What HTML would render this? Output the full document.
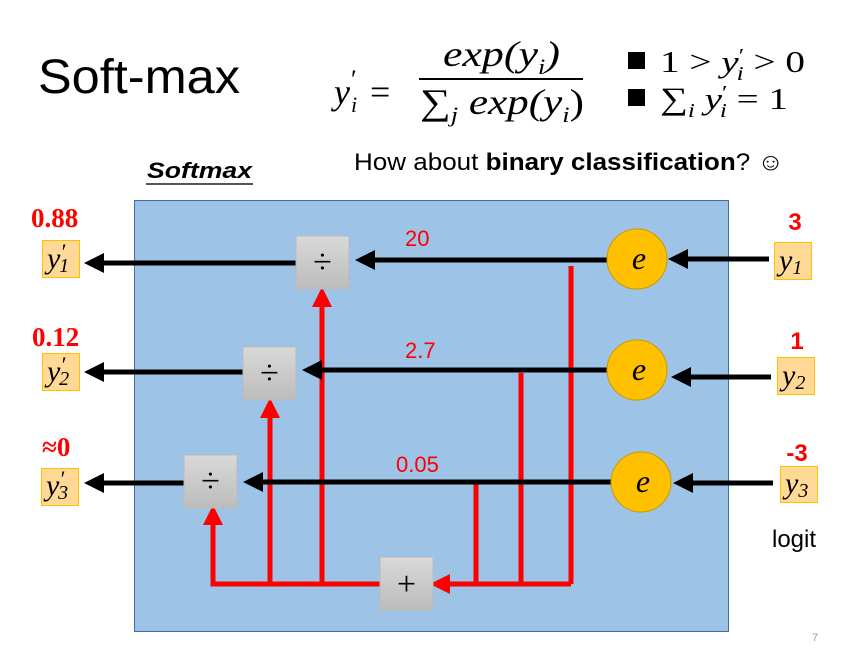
<!DOCTYPE html>
<html><head><meta charset="utf-8"><style>
html,body{margin:0;padding:0;background:#fff;}
svg{display:block;}
.m{font-family:"Liberation Serif",serif;font-style:italic;}
.r{font-family:"Liberation Serif",serif;}
.s{font-family:"Liberation Sans",sans-serif;}
</style></head><body>
<svg width="841" height="655" viewBox="0 0 841 655" xmlns="http://www.w3.org/2000/svg">
<defs>
<marker id="ab" markerWidth="4" markerHeight="4" refX="1" refY="2" orient="auto" markerUnits="strokeWidth"><path d="M0,0 L4,2 L0,4 Z" fill="#000"/></marker>
<marker id="ar" markerWidth="4" markerHeight="4" refX="1" refY="2" orient="auto" markerUnits="strokeWidth"><path d="M0,0 L4,2 L0,4 Z" fill="#f00"/></marker>
<linearGradient id="g" x1="0" y1="0" x2="0" y2="1"><stop offset="0" stop-color="#d9d9d9"/><stop offset="1" stop-color="#bcbcbc"/></linearGradient>
</defs>
<text x="38" y="93" class="s" font-size="48" textLength="202" lengthAdjust="spacingAndGlyphs">Soft-max</text>
<!-- formula -->
<text x="334" y="104" class="m" font-size="36">y</text>
<text x="351" y="88" class="r" font-size="26">′</text>
<text x="351" y="112" class="m" font-size="22">i</text>
<text x="370" y="104" class="r" font-size="36">=</text>
<text x="443" y="66" class="m" font-size="36" textLength="117" lengthAdjust="spacingAndGlyphs">exp(y<tspan font-size="22" dy="8">i</tspan><tspan dy="-8">)</tspan></text>
<rect x="419" y="78" width="164" height="2" fill="#000"/>
<text x="420" y="114" class="r" font-size="36" textLength="164" lengthAdjust="spacingAndGlyphs">∑<tspan class="m" font-size="22" dy="8">j</tspan><tspan class="m" dy="-8"> exp(y</tspan><tspan class="m" font-size="22" dy="8">i</tspan><tspan dy="-8">)</tspan></text>
<rect x="628" y="52" width="17" height="17" fill="#000"/>
<text x="660" y="72" class="r" font-size="31" textLength="145" lengthAdjust="spacingAndGlyphs">1 &gt; <tspan class="m">y</tspan><tspan font-size="20" dy="-10">′</tspan><tspan class="m" font-size="20" dx="-6" dy="18">i</tspan><tspan dy="-8"> &gt; 0</tspan></text>
<rect x="628" y="89" width="17" height="17" fill="#000"/>
<text x="660" y="109" class="r" font-size="31" textLength="128" lengthAdjust="spacingAndGlyphs">∑<tspan class="m" font-size="20" dy="8">i</tspan><tspan class="m" dy="-8"> y</tspan><tspan font-size="20" dy="-10">′</tspan><tspan class="m" font-size="20" dx="-6" dy="18">i</tspan><tspan dy="-8">  = 1</tspan></text>
<text x="354" y="170" class="s" font-size="24" textLength="430" lengthAdjust="spacingAndGlyphs">How about <tspan font-weight="bold">binary classification</tspan>? ☺</text>
<text x="147" y="178" class="s" font-size="22" font-weight="bold" font-style="italic" textLength="105" lengthAdjust="spacingAndGlyphs">Softmax</text>
<rect x="146" y="183" width="107" height="2" fill="#555"/>
<!-- box -->
<rect x="134.5" y="200.5" width="594" height="431" fill="#9dc3e6" stroke="#41719c" stroke-width="1"/>
<g stroke="#f00" stroke-width="5" fill="none">
<line x1="571" y1="266" x2="571" y2="584"/>
<line x1="521" y1="373" x2="521" y2="584"/>
<line x1="476" y1="484" x2="476" y2="584"/>
<line x1="571" y1="584" x2="445" y2="584" marker-end="url(#ar)"/>
<polyline points="380,584 213,584 213,520" marker-end="url(#ar)"/>
<line x1="270" y1="584" x2="270" y2="413" marker-end="url(#ar)"/>
<line x1="322" y1="584" x2="322" y2="302" marker-end="url(#ar)"/>
</g>
<g stroke="#000" stroke-width="5" fill="none">
<line x1="607" y1="260" x2="370" y2="260" marker-end="url(#ab)"/>
<line x1="607" y1="370" x2="317" y2="370" marker-end="url(#ab)"/>
<line x1="611" y1="482" x2="258" y2="482" marker-end="url(#ab)"/>
<line x1="296" y1="263" x2="99" y2="263" marker-end="url(#ab)"/>
<line x1="243" y1="372" x2="99" y2="372" marker-end="url(#ab)"/>
<line x1="184" y1="483" x2="99" y2="483" marker-end="url(#ab)"/>
<line x1="769" y1="259" x2="683" y2="259" marker-end="url(#ab)"/>
<line x1="771" y1="377" x2="686" y2="377" marker-end="url(#ab)"/>
<line x1="773" y1="483" x2="688" y2="483" marker-end="url(#ab)"/>
</g>
<g stroke="#bbb" stroke-width="1" fill="url(#g)">
<rect x="296" y="236" width="53" height="53"/>
<rect x="243" y="347" width="53" height="53"/>
<rect x="184" y="455" width="53" height="53"/>
<rect x="380" y="557" width="53" height="53"/>
</g>
<g class="r" font-size="34" text-anchor="middle">
<text x="322.5" y="273">÷</text>
<text x="269.5" y="384">÷</text>
<text x="210.5" y="492">÷</text>
<text x="406.5" y="595">+</text>
</g>
<g fill="#ffc000" stroke="#c99a00" stroke-width="1">
<circle cx="637" cy="259" r="30"/>
<circle cx="637" cy="370" r="30"/>
<circle cx="641" cy="482" r="30"/>
</g>
<g class="m" font-size="32" text-anchor="middle">
<text x="639" y="269">e</text>
<text x="639" y="380">e</text>
<text x="643" y="492">e</text>
</g>
<g class="s" font-size="22" fill="#f00">
<text x="405" y="246">20</text>
<text x="405" y="358">2.7</text>
<text x="396" y="472">0.05</text>
</g>
<g class="s" font-size="24" fill="#f00" font-weight="bold" text-anchor="middle">
<text x="795" y="230">3</text>
<text x="797" y="349">1</text>
<text x="797" y="461">-3</text>
</g>
<g class="r" font-size="27" fill="#f00" font-weight="bold">
<text x="31" y="227">0.88</text>
<text x="32" y="346">0.12</text>
<text x="42" y="456">≈0</text>
</g>
<g fill="#ffd995" stroke="#ffc000" stroke-width="1">
<rect x="774.5" y="242.5" width="37" height="37"/>
<rect x="777.5" y="357.5" width="37" height="37"/>
<rect x="780.5" y="466.5" width="37" height="36"/>
<rect x="42.5" y="240.5" width="37" height="37"/>
<rect x="42.5" y="353.5" width="37" height="37"/>
<rect x="41.5" y="468.5" width="37" height="37"/>
</g>
<g font-size="30">
<text x="779" y="270" class="m">y<tspan class="r" font-size="20" dy="4">1</tspan></text>
<text x="782" y="385" class="m">y<tspan class="r" font-size="20" dy="4">2</tspan></text>
<text x="785" y="493" class="m">y<tspan class="r" font-size="20" dy="4">3</tspan></text>
<text x="47" y="268" class="m">y<tspan class="r" font-size="22" dy="-9">′</tspan><tspan class="r" font-size="20" dx="-6" dy="13">1</tspan></text>
<text x="47" y="381" class="m">y<tspan class="r" font-size="22" dy="-9">′</tspan><tspan class="r" font-size="20" dx="-6" dy="13">2</tspan></text>
<text x="46" y="495" class="m">y<tspan class="r" font-size="22" dy="-9">′</tspan><tspan class="r" font-size="20" dx="-6" dy="13">3</tspan></text>
</g>
<text x="772" y="547" class="s" font-size="24">logit</text>
<text x="812" y="641" class="s" font-size="11" fill="#999">7</text>
</svg>
</body></html>
